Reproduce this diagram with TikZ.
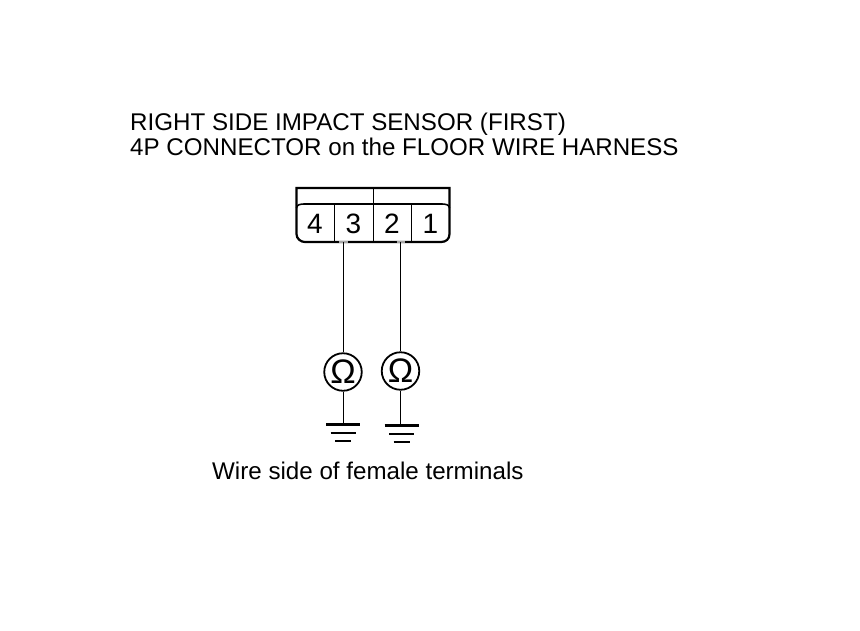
\documentclass[tikz,border=0pt]{standalone}
\usepackage{fontspec}
\setmainfont{Liberation Sans}
\usetikzlibrary{positioning,calc}

\begin{document}
\begin{tikzpicture}[
  x=1pt,y=-1pt,
  font=\fontsize{24.15pt}{25pt}\selectfont,
  wire/.style={draw,line width=1pt},
  shell/.style={draw,line width=2.2pt},
  rail/.style={draw,line width=1.6pt},
  divider/.style={draw,line width=1.1pt},
  notch/.style={draw,line width=2.2pt,black!35},
  pin/.style={inner sep=0pt,anchor=center,font=\fontsize{28pt}{28pt}\selectfont},
  meter/.style={draw,circle,line width=1.8pt,minimum size=37.5pt,inner sep=0pt,font=\fontsize{34pt}{34pt}\selectfont},
  bar/.style={draw,line width=3pt},
  thinbar/.style={draw,line width=2pt}
]
\useasboundingbox (0,0) rectangle (860,630);

% titles
\node[anchor=base west,inner sep=0pt,align=left] (title) at (130,130) {RIGHT SIDE IMPACT SENSOR (FIRST)};
\node[anchor=base west,inner sep=0pt,align=left] (sub) at (130,155) {4P CONNECTOR on the FLOOR WIRE HARNESS};

% connector
\draw[shell] (296.5,188) -- (296.5,234) .. controls (296.5,239) and (301,242) .. (305,242)
  -- (441,242) .. controls (446,242) and (449.5,239) .. (449.5,234) -- (449.5,188) -- cycle;
\draw[rail] (296.5,208) to[out=90,in=180] (304,204) -- (442,204) to[out=0,in=90] (449.5,208);
\draw[divider] (373.3,188) -- (373.3,242);
\draw[divider] (334.5,204) -- (334.5,242);
\draw[divider] (411.7,204) -- (411.7,242);
\node[pin] (p4) at (315,224) {4};
\node[pin] (p3) at (353.5,224) {3};
\node[pin] (p2) at (392,224) {2};
\node[pin] (p1) at (430.5,224) {1};

% meters
\coordinate (t3) at (343,242);
\coordinate (t2) at (400.5,242);
\node[meter] (ohmA) at (343,372) {Ω};
\node[meter] (ohmB) at (400.5,371) {Ω};
\draw[notch] (338.5,242) -- (347.5,242);
\draw[notch] (396.5,242) -- (404.5,242);
\draw[wire] (t3) -- (ohmA);
\draw[wire] (t2) -- (ohmB);

% grounds
\coordinate (gndA) at (343,424.5);
\coordinate (gndB) at (401.7,425.5);
\draw[wire] (ohmA) -- (gndA);
\draw[wire] (ohmB) -- (ohmB |- gndB);
\foreach \g in {gndA,gndB}{
  \draw[bar] ($(\g)+(-17,0)$) -- ($(\g)+(17,0)$);
  \draw[thinbar] ($(\g)+(-12.5,8)$) -- ($(\g)+(12.5,8)$);
  \draw[thinbar] ($(\g)+(-8,16)$) -- ($(\g)+(8,16)$);
}

\node[anchor=base west,inner sep=0pt] (note) at (212,479) {Wire side of female terminals};
\end{tikzpicture}
\end{document}
